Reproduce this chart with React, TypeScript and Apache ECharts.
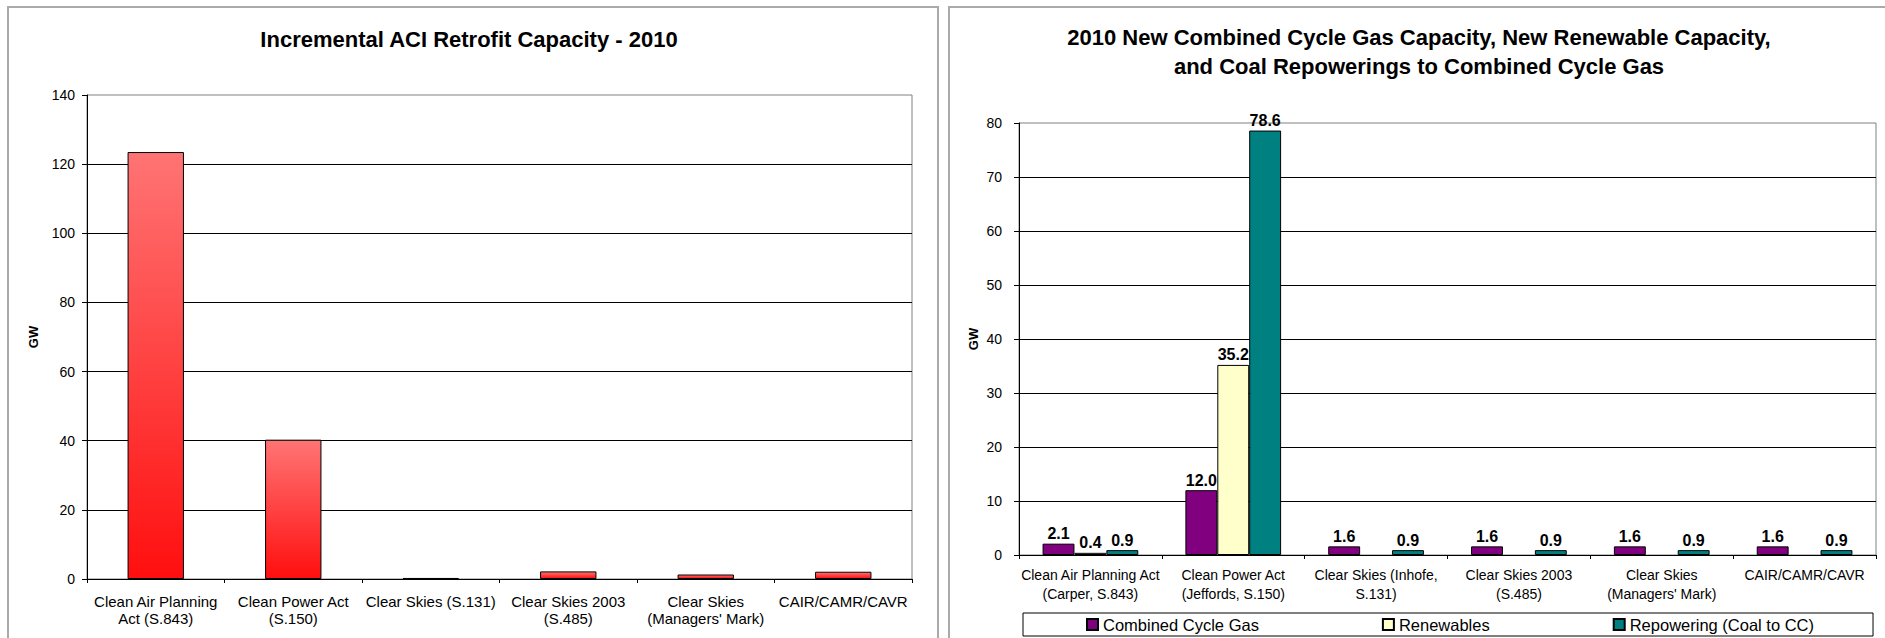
import React, { useEffect, useRef } from "react";
import * as echarts from "echarts";

const FONT = "'Liberation Sans', Arial, Helvetica, sans-serif";

const leftTitle = "Incremental ACI Retrofit Capacity - 2010";
const rightTitle =
  "2010 New Combined Cycle Gas Capacity, New Renewable Capacity,\nand Coal Repowerings to Combined Cycle Gas";
const yAxisName = "GW";

const leftCategories = [
  "Clean Air Planning\nAct (S.843)",
  "Clean Power Act\n(S.150)",
  "Clear Skies (S.131)",
  "Clear Skies 2003\n(S.485)",
  "Clear Skies\n(Managers' Mark)",
  "CAIR/CAMR/CAVR",
];
const leftValues = [123.5, 40.3, 0.3, 2.2, 1.3, 2.1];
const leftAxisMin = 0;
const leftAxisMax = 140;
const leftAxisStep = 20;

const rightCategories = [
  "Clean Air Planning Act\n(Carper, S.843)",
  "Clean Power Act\n(Jeffords, S.150)",
  "Clear Skies (Inhofe,\nS.131)",
  "Clear Skies 2003\n(S.485)",
  "Clear Skies\n(Managers' Mark)",
  "CAIR/CAMR/CAVR",
];
const seriesNames = ["Combined Cycle Gas", "Renewables", "Repowering (Coal to CC)"];
const combinedCycleGas = [2.1, 12.0, 1.6, 1.6, 1.6, 1.6];
const renewables: (number | null)[] = [0.4, 35.2, null, null, null, null];
const repowering = [0.9, 78.6, 0.9, 0.9, 0.9, 0.9];
const rightAxisMin = 0;
const rightAxisMax = 80;
const rightAxisStep = 10;

const seriesColors = ["#800080", "#ffffcc", "#008080"];

export default function App() {
  const ref = useRef<HTMLDivElement>(null);

  useEffect(() => {
    if (!ref.current) return;
    const chart = echarts.init(ref.current, null, { renderer: "svg" });

    const yAxisCommon = (min: number, max: number, step: number, margin: number) => ({
      type: "value" as const,
      min,
      max,
      interval: step,
      axisLine: { show: true, lineStyle: { color: "#000", width: 1 } },
      axisTick: { show: true, length: 5, lineStyle: { color: "#000" } },
      axisLabel: { color: "#000", fontSize: 14, fontFamily: FONT, margin },
      splitLine: { show: true, showMaxLine: false, lineStyle: { color: "#000", width: 1 } },
    });

    const xAxisCommon = (data: string[], fontSize: number, lineHeight: number, margin: number) => ({
      type: "category" as const,
      data,
      axisLine: { show: true, lineStyle: { color: "#000", width: 1 } },
      axisTick: { show: true, length: 4, lineStyle: { color: "#000" } },
      axisLabel: {
        interval: 0,
        color: "#000",
        fontSize,
        lineHeight,
        fontFamily: FONT,
        margin,
      },
      splitLine: { show: false },
    });

    const barBorder = { borderColor: "#000", borderWidth: 1 };

    const option: any = {
      animation: false,
      backgroundColor: "#ffffff",
      textStyle: { fontFamily: FONT },
      grid: [
        { left: 87, top: 95, width: 825, height: 484, show: true, borderColor: "#808080", borderWidth: 1, backgroundColor: "transparent" },
        { left: 1019, top: 123, width: 857, height: 432, show: true, borderColor: "#808080", borderWidth: 1, backgroundColor: "transparent" },
      ],
      xAxis: [
        { ...xAxisCommon(leftCategories, 15, 17, 14), gridIndex: 0 },
        { ...xAxisCommon(rightCategories, 14, 19, 10), gridIndex: 1 },
      ],
      yAxis: [
        { ...yAxisCommon(leftAxisMin, leftAxisMax, leftAxisStep, 12), gridIndex: 0 },
        { ...yAxisCommon(rightAxisMin, rightAxisMax, rightAxisStep, 17), gridIndex: 1 },
      ],
      legend: {
        data: seriesNames,
        left: 1023,
        top: 613,
        orient: "horizontal",
        borderColor: "#000",
        borderWidth: 1,
        padding: [3, 59, 3, 63],
        itemGap: 123,
        itemWidth: 11,
        itemHeight: 11,
        icon: "rect",
        textStyle: { color: "#000", fontSize: 16.5, fontFamily: FONT },
      },
      series: [
        {
          name: "Incremental ACI Retrofit Capacity",
          type: "bar",
          xAxisIndex: 0,
          yAxisIndex: 0,
          data: leftValues,
          barWidth: "41%",
          itemStyle: {
            color: new echarts.graphic.LinearGradient(0, 0, 0, 1, [
              { offset: 0, color: "#ff7474" },
              { offset: 1, color: "#ff0f0f" },
            ]),
            ...barBorder,
          },
        },
        ...[combinedCycleGas, renewables, repowering].map((d, i) => ({
          name: seriesNames[i],
          type: "bar",
          xAxisIndex: 1,
          yAxisIndex: 1,
          data: d,
          barGap: "0%",
          barCategoryGap: "33%",
          itemStyle: { color: seriesColors[i], ...barBorder },
          label: {
            show: true,
            position: "top",
            distance: 2,
            color: "#000",
            fontSize: 16,
            fontWeight: "bold",
            fontFamily: FONT,
            formatter: (p: any) => (p.value == null ? "" : Number(p.value).toFixed(1)),
          },
        })),
      ],
      graphic: [
        {
          type: "rect",
          silent: true,
          shape: { x: 8, y: 7, width: 930, height: 700 },
          style: { fill: "none", stroke: "#aaaaaa", lineWidth: 2 },
        },
        {
          type: "rect",
          silent: true,
          shape: { x: 949, y: 7, width: 1000, height: 700 },
          style: { fill: "none", stroke: "#aaaaaa", lineWidth: 2 },
        },
        {
          type: "text",
          x: 469,
          y: 39,
          style: {
            text: leftTitle,
            fill: "#000",
            fontSize: 22,
            fontWeight: "bold",
            fontFamily: FONT,
            textAlign: "center",
            textVerticalAlign: "middle",
          },
        },
        {
          type: "text",
          x: 1419,
          y: 52,
          style: {
            text: rightTitle,
            fill: "#000",
            fontSize: 22,
            fontWeight: "bold",
            fontFamily: FONT,
            lineHeight: 29,
            textAlign: "center",
            textVerticalAlign: "middle",
          },
        },
        {
          type: "text",
          x: 33,
          y: 337,
          rotation: Math.PI / 2,
          style: {
            text: yAxisName,
            fill: "#000",
            fontSize: 13,
            fontWeight: "bold",
            fontFamily: FONT,
            textAlign: "center",
            textVerticalAlign: "middle",
          },
        },
        {
          type: "text",
          x: 973,
          y: 339,
          rotation: Math.PI / 2,
          style: {
            text: yAxisName,
            fill: "#000",
            fontSize: 13,
            fontWeight: "bold",
            fontFamily: FONT,
            textAlign: "center",
            textVerticalAlign: "middle",
          },
        },
      ],
    };

    chart.setOption(option);
    return () => chart.dispose();
  }, []);

  return (
    <div
      ref={ref}
      style={{ position: "absolute", left: 0, top: 0, width: 1885, height: 638 }}
    />
  );
}
